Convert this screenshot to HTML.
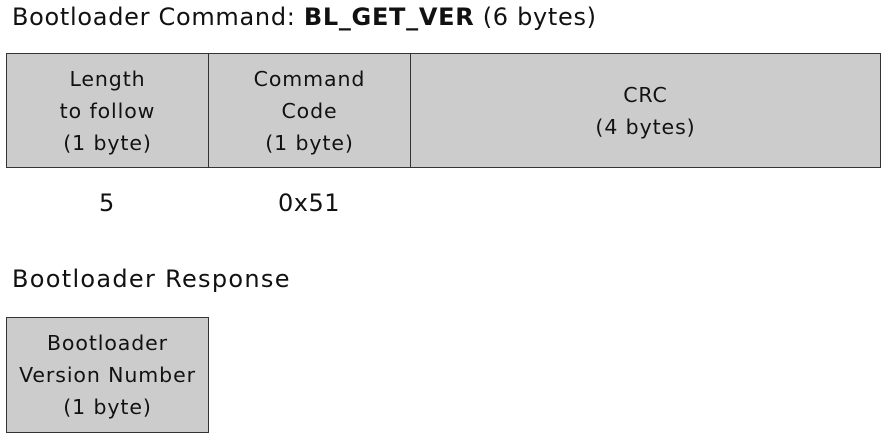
<!DOCTYPE html>
<html><head><meta charset="utf-8"><style>
body{margin:0;width:884px;height:434px;background:#fff;position:relative;font-family:"DejaVu Sans",sans-serif;color:#111;overflow:hidden}
.t{position:absolute;white-space:nowrap}
.c{position:absolute;background:#cccccc;border:1px solid #333;box-sizing:border-box;display:flex;align-items:center;justify-content:center;text-align:center;font-size:20.5px;line-height:32px;letter-spacing:0.9px}
</style></head><body>
<div class="t" style="left:12px;top:3px;font-size:24px;letter-spacing:0.7px">Bootloader Command: <b>BL_GET_VER</b> (6 bytes)</div>
<div class="c" style="left:6px;top:53px;width:203px;height:115px">Length<br>to follow<br>(1 byte)</div>
<div class="c" style="left:208px;top:53px;width:203px;height:115px">Command<br>Code<br>(1 byte)</div>
<div class="c" style="left:410px;top:53px;width:471px;height:115px">CRC<br>(4 bytes)</div>
<div class="t" style="left:99px;top:189px;font-size:24px">5</div>
<div class="t" style="left:278px;top:189px;font-size:24px;letter-spacing:0.5px">0x51</div>
<div class="t" style="left:12px;top:265px;font-size:24px;letter-spacing:1.3px">Bootloader Response</div>
<div class="c" style="left:6px;top:317px;width:203px;height:116px">Bootloader<br>Version Number<br>(1 byte)</div>
</body></html>
